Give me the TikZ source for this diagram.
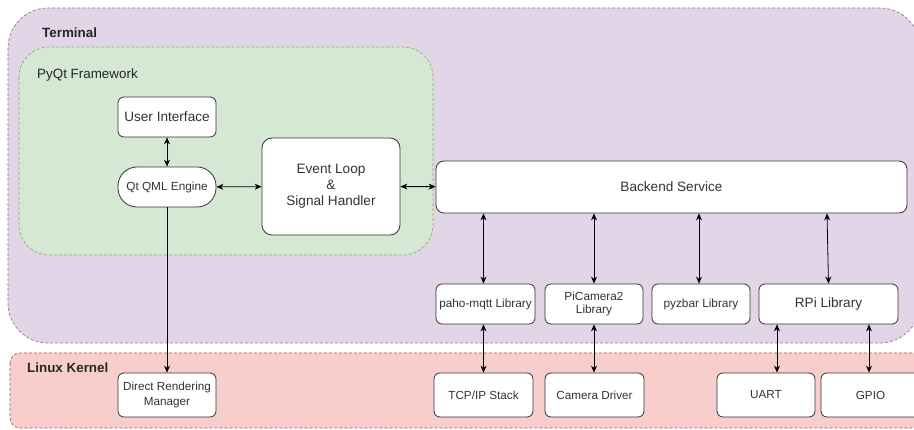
\documentclass[tikz,border=0pt]{standalone}
\usepackage{fontspec}
\setmainfont{Liberation Sans}
\usetikzlibrary{arrows.meta}
\definecolor{purfill}{HTML}{E1D5E7}
\definecolor{purline}{HTML}{9673A6}
\definecolor{grnfill}{HTML}{D5E8D4}
\definecolor{grnline}{HTML}{82B366}
\definecolor{redfill}{HTML}{F8CECC}
\definecolor{redline}{HTML}{B85450}
\definecolor{txt}{HTML}{333333}
\tikzset{
  container/.style={line width=0.7pt, dash pattern=on 3pt off 2pt},
  box/.style={draw=black!80, fill=white, line width=0.8pt, rounded corners=6pt,
    text=txt, align=center, inner sep=1pt, font=\fontsize{13.6}{16}\selectfont},
  smallbox/.style={box, font=\fontsize{11.8}{14.5}\selectfont},
  kbox/.style={box, font=\fontsize{11.7}{15}\selectfont},
  grouplabel/.style={anchor=west, text=black!85, inner sep=0pt},
  link/.style={<->, line width=0.8pt, >={Stealth[length=7pt,width=6pt]}},
  link1/.style={->, line width=0.8pt, >={Stealth[length=7pt,width=6pt]}}
}
\begin{document}
\begin{tikzpicture}[x=1pt,y=-1pt]
\useasboundingbox (0,0) rectangle (914,430);
\clip (0,0) rectangle (914,430);
\fill[white] (0,0) rectangle (914,430);
% containers
\draw[container, draw=purline, fill=purfill, rounded corners=40pt] (8,8) rectangle (920,343);
\draw[container, draw=redline, fill=redfill, rounded corners=10pt] (10,353) rectangle (930,428);
\draw[container, draw=grnline, fill=grnfill, rounded corners=30pt] (19,47) rectangle (433,255);
\node[grouplabel, font=\bfseries\fontsize{13.4}{16}\selectfont] (lterm) at (42,33) {Terminal};
\node[grouplabel, font=\fontsize{13.4}{16}\selectfont] (lpyqt) at (37,75) {PyQt Framework};
\node[grouplabel, font=\bfseries\fontsize{13.4}{16}\selectfont] (llinux) at (27,368) {Linux Kernel};
% boxes
\node[box, minimum width=98, minimum height=40] (ui) at (167,117) {User Interface};
\node[smallbox, minimum width=98, minimum height=40, rounded corners=19pt] (qml) at (167,187) {Qt QML Engine};
\node[box, minimum width=138, minimum height=97, rounded corners=10pt] (ev) at (331,186.5) {Event Loop\\\&\\Signal Handler};
\node[box, minimum width=471, minimum height=52, rounded corners=8pt] (be) at (671.5,187) {Backend Service};
\node[smallbox, minimum width=99, minimum height=40, inner sep=0pt] (paho) at (485.5,304) {paho-mqtt Library};
\node[smallbox, minimum width=98, minimum height=40, font=\fontsize{11.8}{13}\selectfont] (picam) at (594,304) {PiCamera2\\Library};
\node[smallbox, minimum width=98, minimum height=40] (pyzbar) at (701,304) {pyzbar Library};
\node[box, minimum width=139, minimum height=40] (rpi) at (828.5,304) {RPi Library};
\node[kbox, minimum width=98, minimum height=44] (drm) at (167,395) {Direct Rendering\\Manager};
\node[kbox, minimum width=99, minimum height=44] (tcp) at (483.5,395) {TCP/IP Stack};
\node[kbox, minimum width=99, minimum height=44] (cam) at (594.5,395) {Camera Driver};
\node[kbox, minimum width=98, minimum height=44] (uart) at (766,395) {UART};
\node[kbox, minimum width=99, minimum height=44] (gpio) at (870.5,395) {GPIO};
% connectors
\draw[link] (ui) -- (qml);
\draw[link] (qml) -- (ev);
\draw[link] (ev) -- (be);
\draw[link1] (qml) -- (drm);
\draw[link] (be.south -| paho.north) ++(-2,0) coordinate (bp) -- (bp |- paho.north);
\draw[link] (be.south -| picam.north) -- (picam.north);
\draw[link] (be.south -| pyzbar.north) ++(-2,0) coordinate (bz) -- (bz |- pyzbar.north);
\draw[link] (be.south -| rpi.north) ++(-1.5,0) coordinate (br) -- (rpi.north);
\draw[link] (paho.south -| tcp.north) -- (tcp.north);
\draw[link] (picam.south) -- (picam.south |- cam.north);
\draw[link] (uart.north) ++(11,0) coordinate (ua) -- (ua |- rpi.south);
\draw[link] (gpio.north) ++(-1.5,0) coordinate (gp) -- (gp |- rpi.south);
\end{tikzpicture}
\end{document}
